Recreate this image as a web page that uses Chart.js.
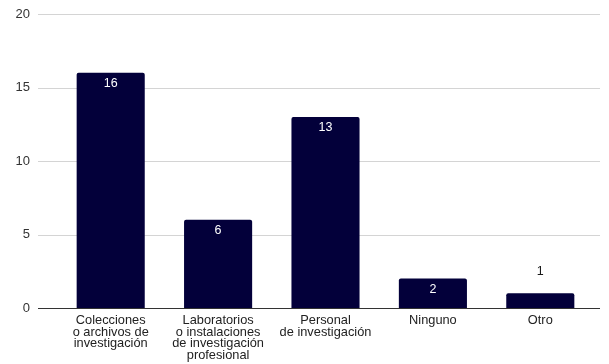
<!DOCTYPE html>
<html>
<head>
<meta charset="utf-8">
<script src="https://cdn.jsdelivr.net/npm/chart.js@4/dist/chart.umd.min.js"></script>
<style>
  html, body { margin: 0; padding: 0; background: #ffffff; }
  #wrap { width: 609px; height: 364px; }
</style>
</head>
<body>
<div id="wrap"><canvas id="c" width="609" height="364"></canvas></div>
<script>
// Categories (multi-line labels) and counts
const categories = [
  ["Colecciones", "o archivos de", "investigación"],
  ["Laboratorios", "o instalaciones", "de investigación", "profesional"],
  ["Personal", "de investigación"],
  ["Ninguno"],
  ["Otro"]
];
const counts = [16, 6, 13, 2, 1];
const yTicks = [0, 5, 10, 15, 20];

const BAR_COLOR = "#03003a";
const FONT = "'Liberation Sans', Arial, sans-serif";

// Horizontal gridlines spanning slightly beyond the plot area, plus the baseline
const gridPlugin = {
  id: "wideGrid",
  beforeDatasetsDraw(chart) {
    const { ctx, scales: { y } } = chart;
    ctx.save();
    yTicks.forEach(v => {
      const py = Math.round(y.getPixelForValue(v)) + 0.5;
      ctx.beginPath();
      ctx.strokeStyle = v === 0 ? "#333333" : "#d4d4d4";
      ctx.lineWidth = 1;
      ctx.moveTo(38, py);
      ctx.lineTo(600, py);
      ctx.stroke();
    });
    ctx.restore();
  }
};

// Value labels: inside the bar top when tall enough, otherwise above it
const valueLabels = {
  id: "valueLabels",
  afterDatasetsDraw(chart) {
    const { ctx } = chart;
    const meta = chart.getDatasetMeta(0);
    ctx.save();
    ctx.font = "12.5px " + FONT;
    ctx.textAlign = "center";
    ctx.textBaseline = "middle";
    meta.data.forEach((bar, i) => {
      const v = counts[i];
      const h = bar.base - bar.y;
      if (h > 22) {
        ctx.fillStyle = "#ffffff";
        ctx.fillText(String(v), bar.x, bar.y + 11);
      } else {
        ctx.fillStyle = "#1a1a1a";
        ctx.fillText(String(v), bar.x, bar.y - 22);
      }
    });
    ctx.restore();
  }
};

new Chart(document.getElementById("c"), {
  type: "bar",
  data: {
    labels: categories,
    datasets: [{
      data: counts,
      backgroundColor: BAR_COLOR,
      borderRadius: { topLeft: 2, topRight: 2 },
      borderSkipped: "bottom",
      barPercentage: 0.634,
      categoryPercentage: 1.0
    }]
  },
  options: {
    responsive: false,
    animation: false,
    devicePixelRatio: 1,
    layout: { padding: { top: 14, right: 15, left: 0, bottom: 0 } },
    plugins: {
      legend: { display: false },
      tooltip: { enabled: false }
    },
    scales: {
      x: {
        grid: { display: false, drawTicks: false },
        border: { display: false },
        ticks: {
          color: "#222222",
          font: { family: FONT, size: 12.8, lineHeight: 0.9 },
          padding: 7,
          maxRotation: 0,
          autoSkip: false
        },
        afterFit(scale) { scale.height = 56; }
      },
      y: {
        min: yTicks[0],
        max: yTicks[yTicks.length - 1],
        grid: { display: false, drawTicks: false },
        border: { display: false },
        ticks: {
          stepSize: 5,
          color: "#333333",
          font: { family: FONT, size: 13 },
          padding: 27
        },
        afterFit(scale) {
          scale.width = 57;
          scale.paddingTop = 0;
          scale.paddingBottom = 0;
        }
      }
    }
  },
  plugins: [gridPlugin, valueLabels]
});
</script>
</body>
</html>
